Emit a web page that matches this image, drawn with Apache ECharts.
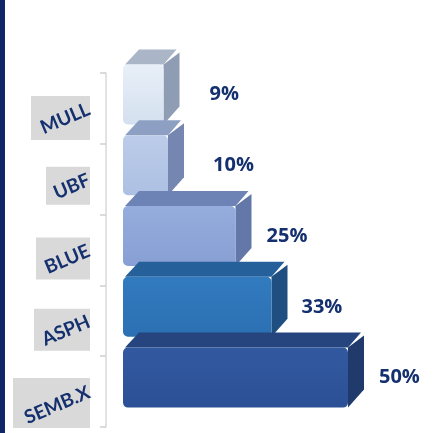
<!DOCTYPE html>
<html>
<head>
<meta charset="utf-8">
<script src="https://cdn.jsdelivr.net/npm/echarts@6/dist/echarts.min.js"></script>
<style>
  html, body { margin: 0; padding: 0; background: #fff; }
  #main { width: 442px; height: 433px; }
  #strip { position: absolute; left: 0; top: 0; width: 5px; height: 433px; background: #0f2767; }
</style>
</head>
<body>
<div id="main"></div>
<div id="strip"></div>
<script>
const categories = ['MULL', 'UBF', 'BLUE', 'ASPH', 'SEMB.X'];
const shares = [9, 10, 25, 33, 50];

// look of each bar: front gradient, top face, side face
const faces = [
  { front: ['#e8eff8', '#d4e0ef'], top: '#aab6c8', side: '#8f9db4' },
  { front: ['#bccce9', '#adc0e3'], top: '#8e9fc4', side: '#7586b0' },
  { front: ['#95addc', '#879fd4'], top: '#6e83b5', side: '#6378a9' },
  { front: ['#327bbf', '#2b70b2'], top: '#25609b', side: '#1f4f80' },
  { front: ['#3259a0', '#2c5096'], top: '#26447e', side: '#213a6c' }
];
const boxSize = [[59, 44], [44, 38], [54, 42], [56, 42], [77, 50]];
const boxDrop = [19, 13, 17, 18, 23];
const labelGap = [46, 45, 31, 30, 31];

const NAVY = '#14306e';
const DX = 16, DY = 15, H = 60, LIFT = 14;

function renderBar(params, api) {
  const i = params.dataIndex;
  const v = api.value(0);
  const c = api.value(1);
  const p0 = api.coord([0, c]);
  const p1 = api.coord([v, c]);
  const x0 = p0[0], x1 = p1[0];
  const yb = p0[1] - LIFT + H / 2, yt = yb - H;
  const f = faces[i];
  return {
    type: 'group',
    children: [
      { type: 'polygon', shape: { points: [[x0 + 2, yt], [x0 + DX, yt - DY], [x1 + DX - 3, yt - DY], [x1, yt]] },
        style: { fill: f.top } },
      { type: 'polygon', shape: { points: [[x1, yt], [x1 + DX, yt - DY + 3], [x1 + DX, yb - DY - 3], [x1, yb]] },
        style: { fill: f.side } },
      { type: 'rect', shape: { x: x0, y: yt, width: x1 - x0, height: H, r: 5 },
        style: { fill: new echarts.graphic.LinearGradient(0, 0, 0, 1, [
          { offset: 0, color: f.front[0] }, { offset: 1, color: f.front[1] }]) } },
      { type: 'text', x: x1 + labelGap[i], y: yt + H / 2,
        style: { text: v + '%', fill: NAVY, font: 'bold 20px "Open Sans"', verticalAlign: 'middle' } }
    ]
  };
}

const rich = {};
categories.forEach((c, i) => {
  rich['sp' + i] = { height: boxDrop[i] };
  rich['b' + i] = { width: boxSize[i][0], height: boxSize[i][1], backgroundColor: '#d9d9d9' };
});

const chart = echarts.init(document.getElementById('main'));
chart.setOption({
  animation: false,
  grid: { left: 106, right: 94, top: 73, bottom: 6 },
  xAxis: { type: 'value', min: -3.78, max: 50, show: false },
  yAxis: [
    {
      type: 'category', data: categories, inverse: true, z: 3,
      axisLine: { onZero: false, lineStyle: { color: '#d9d9d9', width: 1.5 } },
      axisTick: { show: true, length: 6, lineStyle: { color: '#d0d0d0', width: 1.5 } },
      axisLabel: { rotate: 23, margin: 17, padding: [10, 0, 0, 0], color: NAVY, fontWeight: 'bold', fontSize: 19, fontFamily: 'Lato' }
    },
    {
      type: 'category', data: categories, inverse: true, position: 'left', z: 1,
      axisLine: { show: false }, axisTick: { show: false },
      axisLabel: { margin: 16, formatter: (v, i) => '{sp' + i + '| }\n{b' + i + '| }', rich: rich }
    }
  ],
  series: [{
    type: 'custom',
    renderItem: renderBar,
    encode: { x: 0, y: 1 },
    data: shares.map((v, i) => [v, i])
  }]
});
</script>
</body>
</html>
